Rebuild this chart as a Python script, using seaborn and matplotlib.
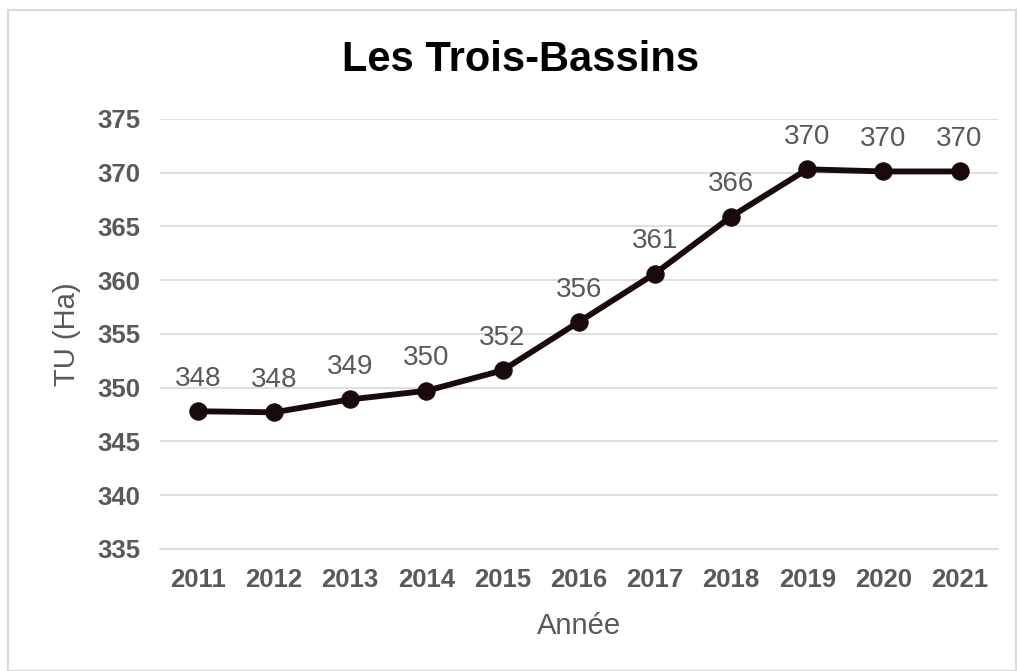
import matplotlib
matplotlib.use("Agg")
import pandas as pd
import matplotlib.pyplot as plt
import seaborn as sns
from matplotlib.patches import Rectangle

# data
years = ["2011", "2012", "2013", "2014", "2015", "2016", "2017", "2018", "2019", "2020", "2021"]
tu_ha = [347.8, 347.7, 348.9, 349.7, 351.6, 356.1, 360.6, 365.9, 370.3, 370.1, 370.1]

df = pd.DataFrame({"Année": years, "TU (Ha)": tu_ha})

sns.set_style("white")
plt.rcParams["font.family"] = ["Liberation Sans", "DejaVu Sans"]

grey = "#595959"
line_col = "#1a0a0a"

fig = plt.figure(figsize=(10.18, 6.71), dpi=100)
ax = fig.add_axes([0.157, 0.182, 0.823, 0.641])

sns.lineplot(data=df, x="Année", y="TU (Ha)", ax=ax, color=line_col, linewidth=4.2,
             marker="o", markersize=12.5, markeredgecolor=line_col, sort=False)

# value labels
for i, v in enumerate(tu_ha):
    ax.annotate(f"{v:.0f}", (i, v), xytext=(0, 14), textcoords="offset points",
                ha="center", va="bottom", fontsize=20, color=grey)

ax.set_ylim(335, 375)
ax.set_xlim(-0.5, len(years) - 0.5)
ax.set_yticks(range(335, 376, 5))
ax.yaxis.grid(True, color="#d9d9d9", linewidth=1.2)
ax.set_axisbelow(True)
for s in ["top", "right", "left"]:
    ax.spines[s].set_visible(False)
ax.spines["bottom"].set_color("#d9d9d9")
ax.spines["bottom"].set_linewidth(1.2)

ax.tick_params(axis="x", length=0, labelsize=18.5, labelcolor=grey, pad=14)
ax.tick_params(axis="y", length=0, labelsize=18.5, labelcolor=grey, pad=14)
for lbl in ax.get_xticklabels() + ax.get_yticklabels():
    lbl.set_fontweight("bold")

ax.set_xlabel("Année", fontsize=21, color=grey, labelpad=14)
ax.set_ylabel("TU (Ha)", fontsize=21, color=grey, labelpad=12)

fig.text(0.511, 0.91, "Les Trois-Bassins", ha="center", va="center",
         fontsize=30, fontweight="bold", color="black")

# outer border of the chart
fig.patches.append(Rectangle((0.008, 0.0), 0.99, 0.985, transform=fig.transFigure,
                             fill=False, edgecolor="#d9d9d9", linewidth=1.5))

fig.savefig("out.png", dpi=100)
